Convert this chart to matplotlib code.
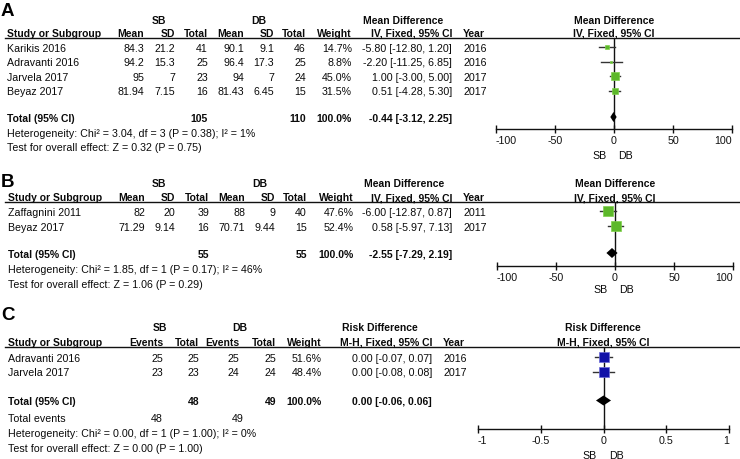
import matplotlib
matplotlib.use('Agg')
import matplotlib.pyplot as plt

plt.rcParams['font.family'] = ['Liberation Sans', 'DejaVu Sans']
plt.rcParams['axes.unicode_minus'] = False

# ---------------- Data: panel A ----------------
A_study = ["Karikis 2016", "Adravanti 2016", "Jarvela 2017", "Beyaz 2017"]
A_sb_mean = [84.3, 94.2, 95, 81.94]
A_sb_sd = [21.2, 15.3, 7, 7.15]
A_sb_n = [41, 25, 23, 16]
A_db_mean = [90.1, 96.4, 94, 81.43]
A_db_sd = [9.1, 17.3, 7, 6.45]
A_db_n = [46, 25, 24, 15]
A_weight = [14.7, 8.8, 45.0, 31.5]
A_md = [-5.80, -2.20, 1.00, 0.51]
A_lo = [-12.80, -11.25, -3.00, -4.28]
A_hi = [1.20, 6.85, 5.00, 5.30]
A_year = [2016, 2016, 2017, 2017]
A_tot_sb, A_tot_db = 105, 110
A_tot_md, A_tot_lo, A_tot_hi = -0.44, -3.12, 2.25
A_het = "Heterogeneity: Chi\u00b2 = 3.04, df = 3 (P = 0.38); I\u00b2 = 1%"
A_test = "Test for overall effect: Z = 0.32 (P = 0.75)"

# ---------------- Data: panel B ----------------
B_study = ["Zaffagnini 2011", "Beyaz 2017"]
B_sb_mean = [82, 71.29]
B_sb_sd = [20, 9.14]
B_sb_n = [39, 16]
B_db_mean = [88, 70.71]
B_db_sd = [9, 9.44]
B_db_n = [40, 15]
B_weight = [47.6, 52.4]
B_md = [-6.00, 0.58]
B_lo = [-12.87, -5.97]
B_hi = [0.87, 7.13]
B_year = [2011, 2017]
B_tot_sb, B_tot_db = 55, 55
B_tot_md, B_tot_lo, B_tot_hi = -2.55, -7.29, 2.19
B_het = "Heterogeneity: Chi\u00b2 = 1.85, df = 1 (P = 0.17); I\u00b2 = 46%"
B_test = "Test for overall effect: Z = 1.06 (P = 0.29)"

# ---------------- Data: panel C ----------------
C_study = ["Adravanti 2016", "Jarvela 2017"]
C_sb_ev = [25, 23]
C_sb_n = [25, 23]
C_db_ev = [25, 24]
C_db_n = [25, 24]
C_weight = [51.6, 48.4]
C_rd = [0.00, 0.00]
C_lo = [-0.07, -0.08]
C_hi = [0.07, 0.08]
C_year = [2016, 2017]
C_tot_sb, C_tot_db = 48, 49
C_ev_sb, C_ev_db = 48, 49
C_tot_rd, C_tot_lo, C_tot_hi = 0.00, -0.06, 0.06
C_het = "Heterogeneity: Chi\u00b2 = 0.00, df = 1 (P = 1.00); I\u00b2 = 0%"
C_test = "Test for overall effect: Z = 0.00 (P = 1.00)"

MD_ticks = [-100, -50, 0, 50, 100]
MD_ticklabels = ["-100", "-50", "0", "50", "100"]
RD_ticks = [-1, -0.5, 0, 0.5, 1]
RD_ticklabels = ["-1", "-0.5", "0", "0.5", "1"]

# ---------------- Layout / style ----------------
W, H = 740, 460
FS = 7.7
FSB = 7.5
TC = '#0a0a0a'
GREEN, GREEN_E = '#5cb82a', '#7fd04a'
BLUE, BLUE_E = '#1212a8', '#6c6cd8'
STEP = 14.5

fig = plt.figure(figsize=(W / 100, H / 100), dpi=100)
bg = fig.add_axes([0, 0, 1, 1])
bg.set_xlim(0, W)
bg.set_ylim(H, 0)
bg.axis('off')


def txt(x, y, s, ha='left', bold=False):
    bg.text(x, y + 3.8, s, ha=ha, va='baseline', fontsize=FSB if bold else FS,
            fontweight='bold' if bold else 'normal', color=TC)


def g(v):
    return f"{v:g}"


def ci(e, l, h):
    return f"{e:.2f} [{l:.2f}, {h:.2f}]"


def forest(x0, x1, ytop, ybot, xlim, ticks, ticklabels, rows_y, est, lo, hi,
           weights, fc, ec, tot_y, t_e, t_l, t_h):
    ax = fig.add_axes([x0 / W, 1 - ybot / H, (x1 - x0) / W, (ybot - ytop) / H])
    ax.set_xlim(*xlim)
    ax.set_ylim(ybot, ytop)
    ax.patch.set_alpha(0)
    for s in ['left', 'right', 'top']:
        ax.spines[s].set_visible(False)
    ax.spines['bottom'].set_linewidth(1.0)
    ax.spines['bottom'].set_color('#111111')
    ax.set_yticks([])
    ax.set_xticks(ticks)
    labels = ax.set_xticklabels(ticklabels)
    labels[0].set_ha('left')
    labels[-1].set_ha('right')
    ax.tick_params(axis='x', direction='inout', length=6, width=1.0,
                   labelsize=FS, pad=1.5, colors='#111111')
    ax.axvline(0, color='#111111', lw=1.0, zorder=1)
    for y, e, l, h, w in zip(rows_y, est, lo, hi, weights):
        ax.plot([l, h], [y, y], color='#333333', lw=1.0, zorder=2)
        side_px = 0.5 * w ** 0.75
        ax.plot([e], [y], marker='s', ms=side_px * 0.72, mfc=fc, mec=ec,
                mew=0.5, zorder=3, ls='none')
    ax.fill([t_l, t_e, t_h, t_e], [tot_y, tot_y - 5, tot_y, tot_y + 5],
            color='black', zorder=4, lw=0)
    return ax


def hline(y):
    bg.plot([5, W], [y, y], color='#111111', lw=1.0)


# ================= Panel A =================
bg.text(1, 16, "A", fontsize=13.5, fontweight='bold', color='black', va='baseline')
txt(159, 20, "SB", ha='center', bold=True)
txt(259, 20, "DB", ha='center', bold=True)
txt(403, 20, "Mean Difference", ha='center', bold=True)
txt(614, 20, "Mean Difference", ha='center', bold=True)
hy = 33
txt(7, hy, "Study or Subgroup", bold=True)
for x, s in [(144, "Mean"), (175, "SD"), (208, "Total"), (244, "Mean"),
             (274, "SD"), (306, "Total"), (352, "Weight"),
             (452, "IV, Fixed, 95% CI")]:
    txt(x, hy, s, ha='right', bold=True)
txt(463, hy, "Year", bold=True)
txt(614, hy, "IV, Fixed, 95% CI", ha='center', bold=True)
hline(39)
A_rows = [48 + i * STEP for i in range(len(A_study))]
for i, y in enumerate(A_rows):
    txt(7, y, A_study[i])
    txt(144, y, g(A_sb_mean[i]), ha='right')
    txt(175, y, g(A_sb_sd[i]), ha='right')
    txt(208, y, str(A_sb_n[i]), ha='right')
    txt(244, y, g(A_db_mean[i]), ha='right')
    txt(274, y, g(A_db_sd[i]), ha='right')
    txt(306, y, str(A_db_n[i]), ha='right')
    txt(352, y, f"{A_weight[i]:.1f}%", ha='right')
    txt(452, y, ci(A_md[i], A_lo[i], A_hi[i]), ha='right')
    txt(463, y, str(A_year[i]))
ty = 118
txt(7, ty, "Total (95% CI)", bold=True)
txt(208, ty, str(A_tot_sb), ha='right', bold=True)
txt(306, ty, str(A_tot_db), ha='right', bold=True)
txt(352, ty, f"{sum(A_weight):.1f}%", ha='right', bold=True)
txt(452, ty, ci(A_tot_md, A_tot_lo, A_tot_hi), ha='right', bold=True)
txt(7, 133, A_het)
txt(7, 147, A_test)
forest(496, 732, 39, 130, (-100, 100), MD_ticks, MD_ticklabels,
       A_rows, A_md, A_lo, A_hi, A_weight, GREEN, GREEN_E, ty,
       A_tot_md, A_tot_lo, A_tot_hi)
txt(600, 155, "SB", ha='center')
txt(625, 155, "DB", ha='center')

# ================= Panel B =================
bg.text(1, 187, "B", fontsize=13.5, fontweight='bold', color='black', va='baseline')
txt(159, 183, "SB", ha='center', bold=True)
txt(260, 183, "DB", ha='center', bold=True)
txt(404, 183, "Mean Difference", ha='center', bold=True)
txt(615, 183, "Mean Difference", ha='center', bold=True)
hy = 197.5
txt(8, hy, "Study or Subgroup", bold=True)
for x, s in [(145, "Mean"), (175, "SD"), (209, "Total"), (245, "Mean"),
             (275, "SD"), (307, "Total"), (354, "Weight"),
             (452, "IV, Fixed, 95% CI")]:
    txt(x, hy, s, ha='right', bold=True)
txt(463, hy, "Year", bold=True)
txt(615, hy, "IV, Fixed, 95% CI", ha='center', bold=True)
hline(202.5)
B_rows = [212.5 + i * STEP for i in range(len(B_study))]
for i, y in enumerate(B_rows):
    txt(8, y, B_study[i])
    txt(145, y, g(B_sb_mean[i]), ha='right')
    txt(175, y, g(B_sb_sd[i]), ha='right')
    txt(209, y, str(B_sb_n[i]), ha='right')
    txt(245, y, g(B_db_mean[i]), ha='right')
    txt(275, y, g(B_db_sd[i]), ha='right')
    txt(307, y, str(B_db_n[i]), ha='right')
    txt(354, y, f"{B_weight[i]:.1f}%", ha='right')
    txt(452, y, ci(B_md[i], B_lo[i], B_hi[i]), ha='right')
    txt(463, y, str(B_year[i]))
ty = 254
txt(8, ty, "Total (95% CI)", bold=True)
txt(209, ty, str(B_tot_sb), ha='right', bold=True)
txt(307, ty, str(B_tot_db), ha='right', bold=True)
txt(354, ty, f"{sum(B_weight):.1f}%", ha='right', bold=True)
txt(452, ty, ci(B_tot_md, B_tot_lo, B_tot_hi), ha='right', bold=True)
txt(8, 269, B_het)
txt(8, 284, B_test)
forest(497, 733, 202.5, 267, (-100, 100), MD_ticks, MD_ticklabels,
       B_rows, B_md, B_lo, B_hi, B_weight, GREEN, GREEN_E, ty,
       B_tot_md, B_tot_lo, B_tot_hi)
txt(601, 289, "SB", ha='center')
txt(626, 289, "DB", ha='center')

# ================= Panel C =================
bg.text(1, 320.5, "C", fontsize=13.5, fontweight='bold', color='black', va='baseline')
txt(160, 327, "SB", ha='center', bold=True)
txt(240, 327, "DB", ha='center', bold=True)
txt(380, 327, "Risk Difference", ha='center', bold=True)
txt(603, 327, "Risk Difference", ha='center', bold=True)
hy = 342
txt(8, hy, "Study or Subgroup", bold=True)
for x, s in [(163, "Events"), (199, "Total"), (239, "Events"), (276, "Total"),
             (322, "Weight"), (432, "M-H, Fixed, 95% CI")]:
    txt(x, hy, s, ha='right', bold=True)
txt(443, hy, "Year", bold=True)
txt(603, hy, "M-H, Fixed, 95% CI", ha='center', bold=True)
hline(348)
C_rows = [358 + i * STEP for i in range(len(C_study))]
for i, y in enumerate(C_rows):
    txt(8, y, C_study[i])
    txt(163, y, str(C_sb_ev[i]), ha='right')
    txt(199, y, str(C_sb_n[i]), ha='right')
    txt(239, y, str(C_db_ev[i]), ha='right')
    txt(276, y, str(C_db_n[i]), ha='right')
    txt(322, y, f"{C_weight[i]:.1f}%", ha='right')
    txt(432, y, ci(C_rd[i], C_lo[i], C_hi[i]), ha='right')
    txt(443, y, str(C_year[i]))
ty = 401.5
txt(8, ty, "Total (95% CI)", bold=True)
txt(199, ty, str(C_tot_sb), ha='right', bold=True)
txt(276, ty, str(C_tot_db), ha='right', bold=True)
txt(322, ty, f"{sum(C_weight):.1f}%", ha='right', bold=True)
txt(432, ty, ci(C_tot_rd, C_tot_lo, C_tot_hi), ha='right', bold=True)
txt(8, 418, "Total events")
txt(163, 418, str(C_ev_sb), ha='right')
txt(244, 418, str(C_ev_db), ha='right')
txt(8, 433, C_het)
txt(8, 448, C_test)
forest(478, 729, 348, 430, (-1, 1), RD_ticks, RD_ticklabels,
       C_rows, C_rd, C_lo, C_hi, C_weight, BLUE, BLUE_E, ty,
       C_tot_rd, C_tot_lo, C_tot_hi)
txt(590, 455, "SB", ha='center')
txt(616, 455, "DB", ha='center')

fig.savefig('out.png', dpi=100)
